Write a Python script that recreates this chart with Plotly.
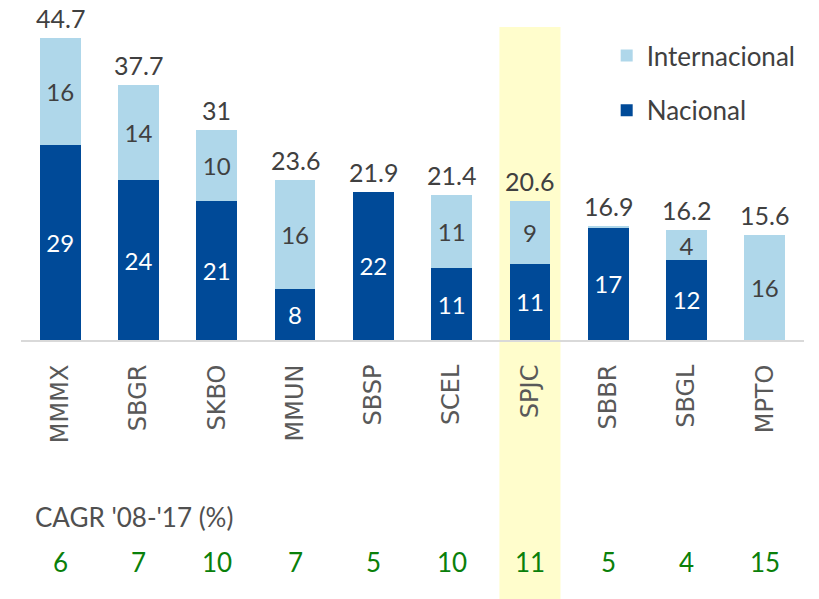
import plotly.graph_objects as go

categories = ["MMMX", "SBGR", "SKBO", "MMUN", "SBSP", "SCEL", "SPJC", "SBBR", "SBGL", "MPTO"]
nacional = [28.9, 23.6, 20.6, 7.6, 21.9, 10.6, 11.3, 16.6, 11.9, 0.0]
internacional = [15.8, 14.1, 10.4, 16.0, 0.0, 10.8, 9.3, 0.3, 4.3, 15.6]
totals = [44.7, 37.7, 31.0, 23.6, 21.9, 21.4, 20.6, 16.9, 16.2, 15.6]
cagr = [6, 7, 10, 7, 5, 10, 11, 5, 4, 15]
cagr_label = "CAGR '08-'17 (%)"
highlight = "SPJC"

C_NAC = "#004A98"
C_INT = "#AFD7EA"
C_TXT = "#404040"
NUM_FONT = "Lato"

W, H = 819, 599
M_L, M_R, M_T, M_B = 21, 15, 2, 259
PLOT_H = H - M_T - M_B
BASE_Y = H - M_B  # pixel row of the category axis


def seg_text(vals):
    return [f"{round(v)}" if v >= 1 else "" for v in vals]


def paper_y(px):
    return (BASE_Y - px) / PLOT_H


fig = go.Figure()
fig.add_trace(go.Bar(
    x=categories, y=nacional, name="Nacional", legendgroup="nac", legendrank=2,
    marker=dict(color=C_NAC, line=dict(width=0)), width=0.52,
    text=seg_text(nacional), textposition="inside", insidetextanchor="middle",
    textfont=dict(family=NUM_FONT, size=24, color="white"), textangle=0,
    hoverinfo="skip",
))
fig.add_trace(go.Bar(
    x=categories, y=internacional, name="Internacional", legendgroup="int", legendrank=1,
    marker=dict(color=C_INT, line=dict(width=0)), width=0.52,
    text=seg_text(internacional), textposition="inside", insidetextanchor="middle",
    textfont=dict(family=NUM_FONT, size=24, color=C_TXT), textangle=0,
    hoverinfo="skip",
))

annotations = []
for c, t in zip(categories, totals):
    annotations.append(dict(
        x=c, y=t, xref="x", yref="y", text=f"{t:g}", showarrow=False,
        yanchor="bottom", yshift=3,
        font=dict(family=NUM_FONT, size=25, color=C_TXT),
    ))
for c, v in zip(categories, cagr):
    annotations.append(dict(
        x=c, y=paper_y(562), xref="x", yref="paper",
        text=str(v), showarrow=False, yanchor="middle",
        font=dict(family=NUM_FONT, size=26, color="#0A800A"),
    ))
annotations.append(dict(
    x=12 / (W - M_L - M_R), y=paper_y(517), xref="paper", yref="paper",
    text=cagr_label, showarrow=False, xanchor="left", yanchor="middle",
    font=dict(family=NUM_FONT, size=26, color="#505050"),
))

hi = categories.index(highlight)
shapes = [dict(
    type="rect", xref="x", yref="paper", layer="below",
    x0=hi - 0.39, x1=hi + 0.39, y0=paper_y(H + 5), y1=paper_y(27),
    fillcolor="#FFFDCC", line=dict(width=0),
)]

fig.update_layout(
    width=W, height=H,
    margin=dict(l=M_L, r=M_R, t=M_T, b=M_B, pad=0),
    barmode="stack",
    paper_bgcolor="white", plot_bgcolor="rgba(0,0,0,0)",
    uniformtext=dict(minsize=24, mode="show"),
    showlegend=True,
    legend=dict(
        x=0.748, y=paper_y(32), xanchor="left", yanchor="top",
        traceorder="grouped", tracegroupgap=18,
        font=dict(family=NUM_FONT, size=26, color=C_TXT),
        bgcolor="rgba(0,0,0,0)",
    ),
    xaxis=dict(
        type="category", range=[-0.5, len(categories) - 0.5],
        showline=True, linecolor="#D9D9D9", linewidth=2,
        ticks="outside", ticklen=13, tickcolor="rgba(0,0,0,0)",
        tickangle=-90, tickfont=dict(family="DejaVu Sans", size=24, color="#595959"),
        showgrid=False, zeroline=False, fixedrange=True,
    ),
    yaxis=dict(range=[0, 50], visible=False, fixedrange=True),
    annotations=annotations,
    shapes=shapes,
)

fig.write_html("out.html")
